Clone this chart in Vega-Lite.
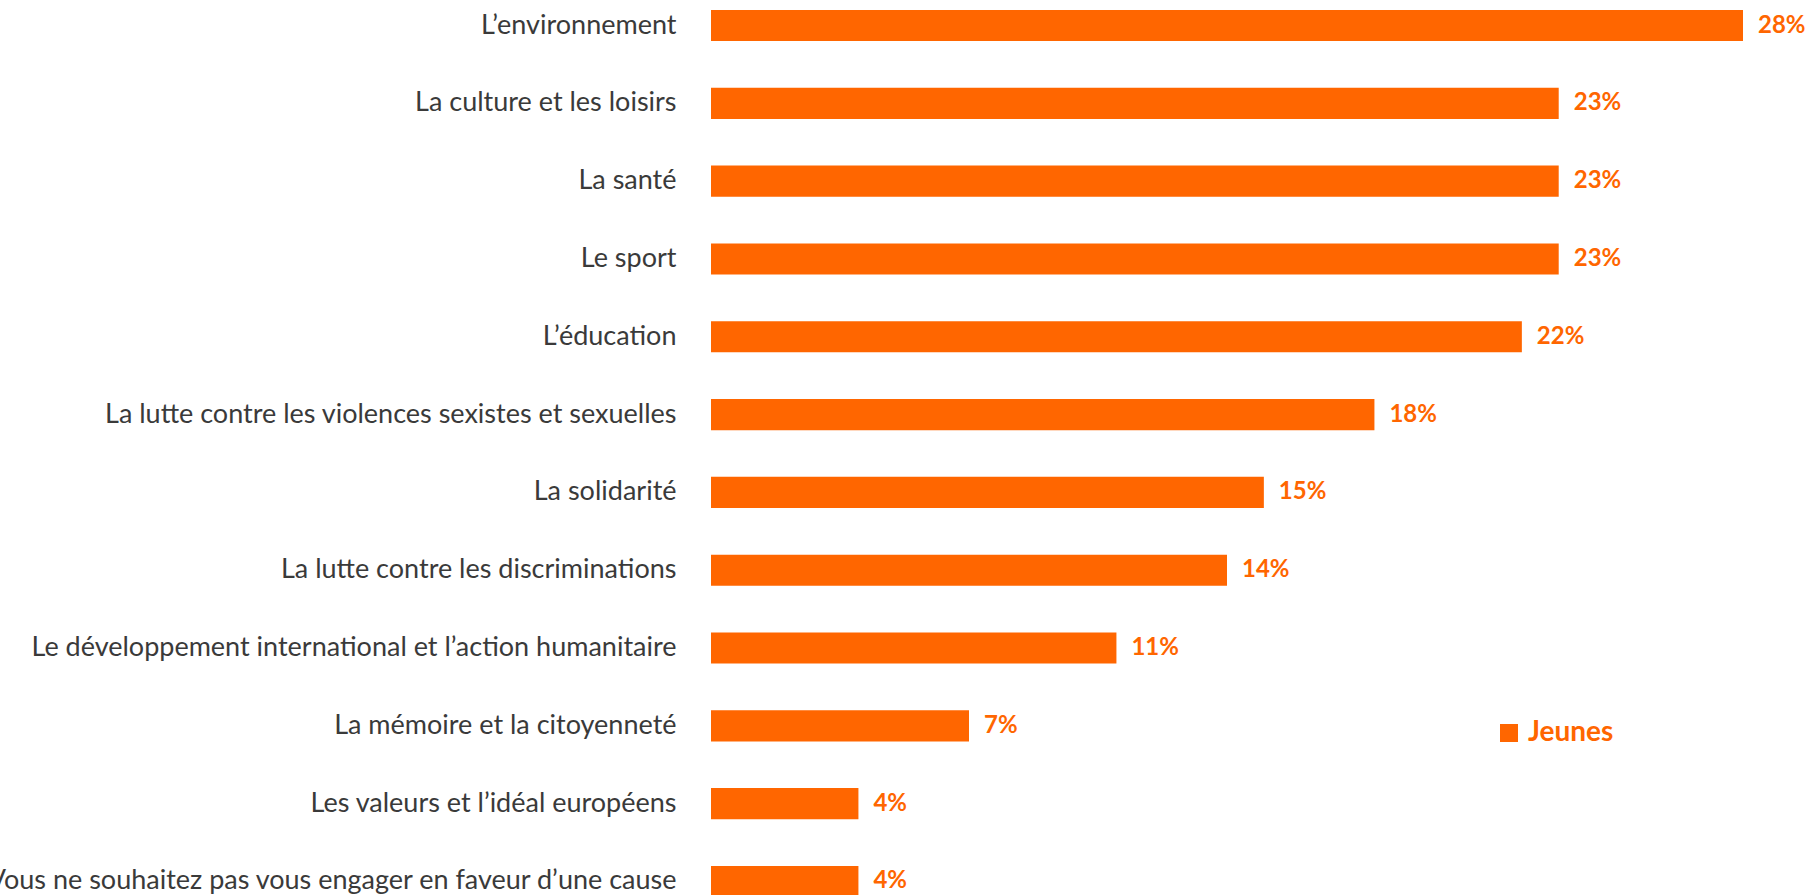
{
  "$schema": "https://vega.github.io/schema/vega-lite/v6.json",
  "autosize": {"type": "none"},
  "padding": {"left": 711, "top": 10, "right": 68, "bottom": 0},
  "width": 1032,
  "height": 887,
  "background": "white",
  "config": {"view": {"stroke": null}, "font": "Lato"},
  "data": {"values": [
    {"cause": "L’environnement", "pct": 0.28, "serie": "Jeunes"},
    {"cause": "La culture et les loisirs", "pct": 0.23, "serie": "Jeunes"},
    {"cause": "La santé", "pct": 0.23, "serie": "Jeunes"},
    {"cause": "Le sport", "pct": 0.23, "serie": "Jeunes"},
    {"cause": "L’éducation", "pct": 0.22, "serie": "Jeunes"},
    {"cause": "La lutte contre les violences sexistes et sexuelles", "pct": 0.18, "serie": "Jeunes"},
    {"cause": "La solidarité", "pct": 0.15, "serie": "Jeunes"},
    {"cause": "La lutte contre les discriminations", "pct": 0.14, "serie": "Jeunes"},
    {"cause": "Le développement international et l’action humanitaire", "pct": 0.11, "serie": "Jeunes"},
    {"cause": "La mémoire et la citoyenneté", "pct": 0.07, "serie": "Jeunes"},
    {"cause": "Les valeurs et l’idéal européens", "pct": 0.04, "serie": "Jeunes"},
    {"cause": "Vous ne souhaitez pas vous engager en faveur d’une cause", "pct": 0.04, "serie": "Jeunes"}
  ]},
  "encoding": {
    "y": {
      "field": "cause", "type": "nominal", "sort": null,
      "scale": {"paddingInner": 0.6, "paddingOuter": 0},
      "axis": {"title": null, "domain": false, "ticks": false, "labelPadding": 35, "labelFontSize": 27, "labelLimit": 0, "labelColor": "#3a3a3a", "labelFont": "Lato"}
    },
    "x": {"field": "pct", "type": "quantitative", "scale": {"domain": [0, 0.28], "nice": false}, "axis": null}
  },
  "layer": [
    {
      "mark": {"type": "bar"},
      "encoding": {
        "color": {
          "field": "serie", "type": "nominal",
          "scale": {"domain": ["Jeunes"], "range": ["#FF6600"]},
          "legend": {
            "title": null, "orient": "none", "legendX": 784, "legendY": 709,
            "symbolType": "square", "symbolSize": 324, "symbolStrokeWidth": 0,
            "labelColor": "#FF6600", "labelFontWeight": "bold", "labelFontSize": 28, "labelFont": "Lato",
            "padding": 0, "labelOffset": 5
          }
        }
      }
    },
    {
      "mark": {"type": "text", "align": "left", "baseline": "middle", "dx": 15, "fontWeight": "bold", "fontSize": 24, "color": "#FF6600", "font": "Lato"},
      "encoding": {"text": {"field": "pct", "type": "quantitative", "format": ".0%"}}
    }
  ]
}
